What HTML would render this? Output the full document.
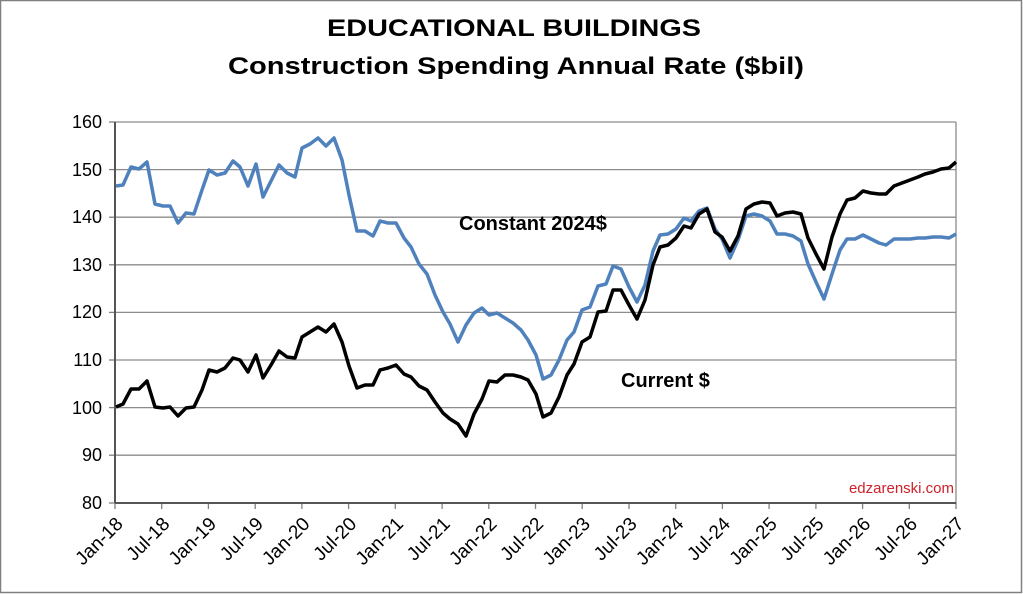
<!DOCTYPE html>
<html><head><meta charset="utf-8"><style>
html,body{margin:0;padding:0;background:#fff}
svg{display:block;font-family:"Liberation Sans",Arial,sans-serif}
</style></head><body>
<svg width="1023" height="594" viewBox="0 0 1023 594">
<rect x="0.5" y="0.5" width="1021" height="592" fill="#fff" stroke="#808080" stroke-width="1.5"/>
<text x="514" y="36" font-size="24" font-weight="bold" text-anchor="middle" textLength="374" lengthAdjust="spacingAndGlyphs">EDUCATIONAL BUILDINGS</text>
<text x="516" y="74" font-size="24" font-weight="bold" text-anchor="middle" textLength="576" lengthAdjust="spacingAndGlyphs">Construction Spending Annual Rate ($bil)</text>
<g stroke="#8c8c8c" stroke-width="1.3">
<line x1="115" y1="122" x2="956" y2="122"/>
<line x1="115" y1="169.6" x2="956" y2="169.6"/>
<line x1="115" y1="217.2" x2="956" y2="217.2"/>
<line x1="115" y1="264.8" x2="956" y2="264.8"/>
<line x1="115" y1="312.4" x2="956" y2="312.4"/>
<line x1="115" y1="360" x2="956" y2="360"/>
<line x1="115" y1="407.6" x2="956" y2="407.6"/>
<line x1="115" y1="455.2" x2="956" y2="455.2"/>
<line x1="956" y1="122" x2="956" y2="503"/>
</g>
<g stroke="#808080" stroke-width="1.3">
<line x1="109" y1="122" x2="115" y2="122"/><line x1="109" y1="169.6" x2="115" y2="169.6"/><line x1="109" y1="217.2" x2="115" y2="217.2"/><line x1="109" y1="264.8" x2="115" y2="264.8"/><line x1="109" y1="312.4" x2="115" y2="312.4"/><line x1="109" y1="360" x2="115" y2="360"/><line x1="109" y1="407.6" x2="115" y2="407.6"/><line x1="109" y1="455.2" x2="115" y2="455.2"/><line x1="109" y1="503" x2="115" y2="503"/>
<line x1="115" y1="503" x2="115" y2="509"/><line x1="161.7" y1="503" x2="161.7" y2="509"/><line x1="208.4" y1="503" x2="208.4" y2="509"/><line x1="255.2" y1="503" x2="255.2" y2="509"/><line x1="301.9" y1="503" x2="301.9" y2="509"/><line x1="348.6" y1="503" x2="348.6" y2="509"/><line x1="395.3" y1="503" x2="395.3" y2="509"/><line x1="442.1" y1="503" x2="442.1" y2="509"/><line x1="488.8" y1="503" x2="488.8" y2="509"/><line x1="535.5" y1="503" x2="535.5" y2="509"/><line x1="582.2" y1="503" x2="582.2" y2="509"/><line x1="629" y1="503" x2="629" y2="509"/><line x1="675.7" y1="503" x2="675.7" y2="509"/><line x1="722.4" y1="503" x2="722.4" y2="509"/><line x1="769.1" y1="503" x2="769.1" y2="509"/><line x1="815.9" y1="503" x2="815.9" y2="509"/><line x1="862.6" y1="503" x2="862.6" y2="509"/><line x1="909.3" y1="503" x2="909.3" y2="509"/><line x1="956" y1="503" x2="956" y2="509"/>
</g>
<line x1="115" y1="122" x2="115" y2="503" stroke="#555" stroke-width="2"/>
<line x1="115" y1="503" x2="956" y2="503" stroke="#555" stroke-width="2"/>
<g font-size="18" text-anchor="end">
<text x="102" y="128">160</text><text x="102" y="176">150</text><text x="102" y="223">140</text><text x="102" y="271">130</text><text x="102" y="318">120</text><text x="102" y="366">110</text><text x="102" y="414">100</text><text x="102" y="461">90</text><text x="102" y="509">80</text>
</g>
<g font-size="19" text-anchor="end">
<text transform="translate(124,525) rotate(-45)">Jan-18</text>
<text transform="translate(170.7,525) rotate(-45)">Jul-18</text>
<text transform="translate(217.4,525) rotate(-45)">Jan-19</text>
<text transform="translate(264.2,525) rotate(-45)">Jul-19</text>
<text transform="translate(310.9,525) rotate(-45)">Jan-20</text>
<text transform="translate(357.6,525) rotate(-45)">Jul-20</text>
<text transform="translate(404.3,525) rotate(-45)">Jan-21</text>
<text transform="translate(451.1,525) rotate(-45)">Jul-21</text>
<text transform="translate(497.8,525) rotate(-45)">Jan-22</text>
<text transform="translate(544.5,525) rotate(-45)">Jul-22</text>
<text transform="translate(591.2,525) rotate(-45)">Jan-23</text>
<text transform="translate(638,525) rotate(-45)">Jul-23</text>
<text transform="translate(684.7,525) rotate(-45)">Jan-24</text>
<text transform="translate(731.4,525) rotate(-45)">Jul-24</text>
<text transform="translate(778.1,525) rotate(-45)">Jan-25</text>
<text transform="translate(824.9,525) rotate(-45)">Jul-25</text>
<text transform="translate(871.6,525) rotate(-45)">Jan-26</text>
<text transform="translate(918.3,525) rotate(-45)">Jul-26</text>
<text transform="translate(965,525) rotate(-45)">Jan-27</text>
</g>
<polyline fill="none" stroke="#4f81bd" stroke-width="3.5" stroke-linejoin="round" points="116,186 123,185 131,167 139,169 147,162 155,204 163,206 170,206 178,223 186,213 194,214 202,190 209,170 217,175 225,173 233,161 240,167 248,186 256,164 263,197 271,181 279,165 287,173 295,177 302,148 310,144 318,138 326,146 334,138 342,160 349,195 357,231 365,231 373,236 380,221 388,223 396,223 404,238 411,247 419,264 427,274 435,295 443,312 450,324 458,342 466,325 474,313 482,308 489,315 497,313 505,318 513,323 521,330 528,340 536,355 543,379 551,375 559,360 567,340 574,332 582,310 590,307 598,286 606,284 613,266 621,269 629,287 637,302 645,285 653,251 660,235 668,234 676,229 684,218 691,221 699,211 707,208 715,229 722,239 730,258 738,240 746,216 754,214 762,216 770,221 777,234 785,234 793,236 801,241 808,264 816,282 824,299 832,274 840,250 847,239 855,239 863,235 871,239 879,243 886,245 894,239 902,239 910,239 918,238 925,238 933,237 941,237 949,238 956,234"/>
<polyline fill="none" stroke="#000" stroke-width="3.5" stroke-linejoin="round" points="116,407 123,404 131,389 139,389 147,381 155,407 163,408 170,407 178,416 186,408 194,407 202,390 209,370 217,372 225,368 233,358 240,360 248,372 256,355 263,378 271,365 279,351 287,357 295,358 302,337 310,332 318,327 326,332 334,324 342,342 349,366 357,388 365,385 373,385 380,370 388,368 396,365 404,374 411,377 419,386 427,390 435,402 443,413 450,419 458,424 466,436 474,414 482,399 489,381 497,382 505,375 513,375 521,377 528,380 536,394 543,417 551,413 559,397 567,375 574,364 582,342 590,337 598,312 606,311 613,290 621,290 629,305 637,319 645,300 653,265 660,247 668,245 676,238 684,226 691,228 699,214 707,209 715,232 722,237 730,251 738,236 746,209 754,204 762,202 770,203 777,216 785,213 793,212 801,214 808,238 816,254 824,269 832,237 840,214 847,200 855,198 863,191 871,193 879,194 886,194 894,186 902,183 910,180 918,177 925,174 933,172 941,169 949,168 956,162"/>
<text x="459" y="230" font-size="20" font-weight="bold">Constant 2024$</text>
<text x="621" y="387" font-size="20" font-weight="bold">Current $</text>
<text x="954" y="493" font-size="15" fill="#d0202a" text-anchor="end">edzarenski.com</text>
</svg>
</body></html>
